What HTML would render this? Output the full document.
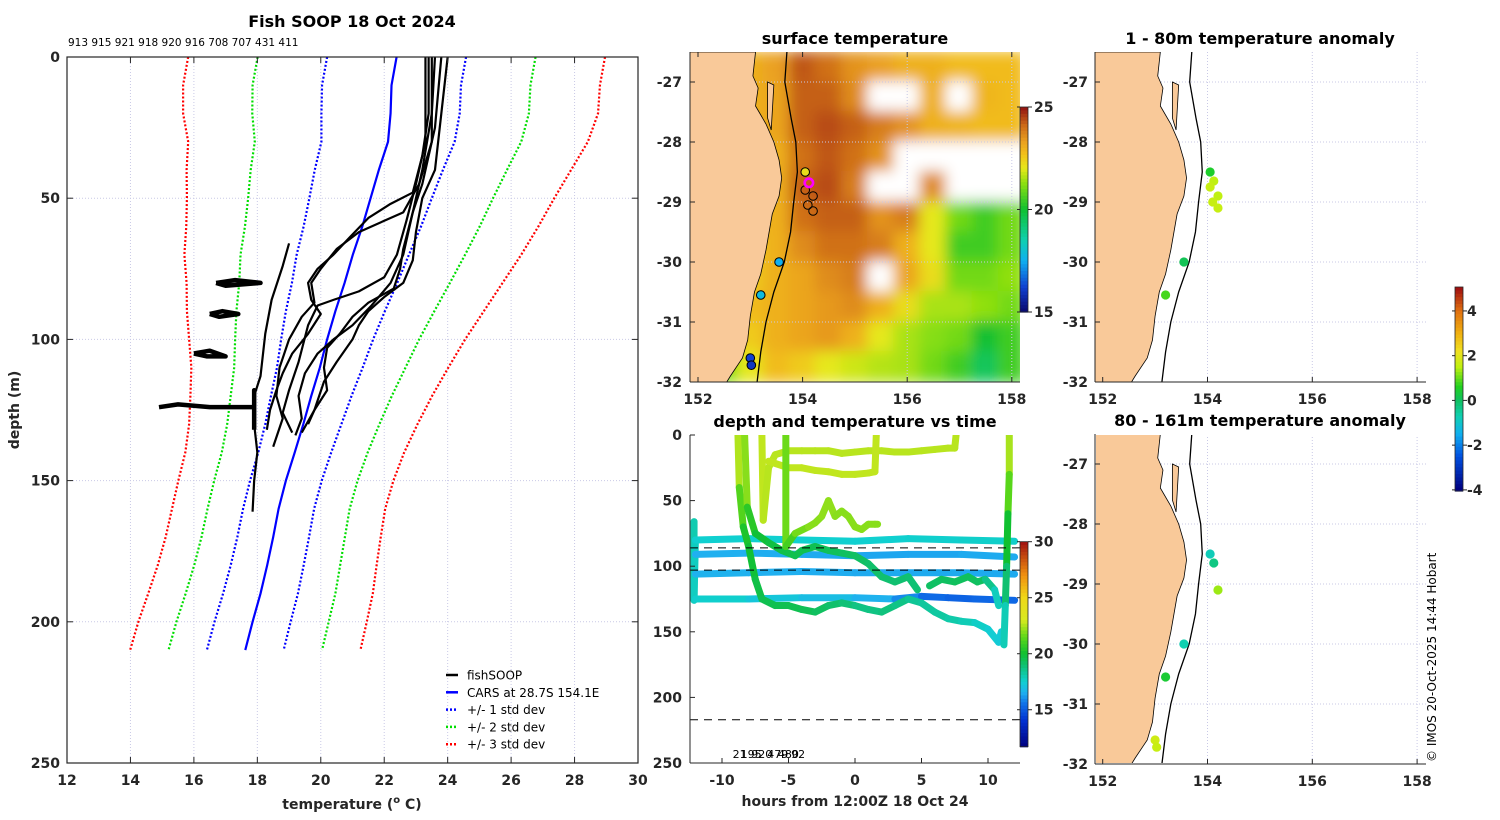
<!DOCTYPE html>
<html><head><meta charset="utf-8"><title>Fish SOOP 18 Oct 2024</title>
<style>
html,body{margin:0;padding:0;background:#fff;}
svg{display:block;font-family:"DejaVu Sans","Liberation Sans",sans-serif;}
.tk{font-size:14px;font-weight:bold;fill:#262626;}
.ttl{font-size:16px;font-weight:bold;fill:#000;}
.lg{font-size:12px;fill:#000;}
</style></head>
<body>
<svg id="fig" width="1500" height="820" viewBox="0 0 1500 820" xmlns="http://www.w3.org/2000/svg">
<defs>
<clipPath id="cpSst"><rect x="690" y="52" width="330" height="330"/></clipPath>
<clipPath id="cpTime"><rect x="690" y="435" width="330" height="328"/></clipPath>
<clipPath id="cpA1"><rect x="1095" y="52" width="331" height="330"/></clipPath>
<clipPath id="cpA2"><rect x="1096" y="435" width="330" height="328"/></clipPath>
<clipPath id="cpProf"><rect x="67" y="57" width="571" height="706"/></clipPath>
<filter id="blur" x="-5%" y="-5%" width="110%" height="110%"><feGaussianBlur stdDeviation="7"/></filter>
</defs>
<g id="root"></g>
</svg>
<script>
// ---------- profile panel data ----------
const carsDepth = [0,10,20,30,40,50,60,70,80,90,100,110,120,130,140,150,160,170,180,190,200,210];
const carsMean  = [22.39,22.23,22.2,22.12,21.83,21.57,21.31,21.01,20.75,20.46,20.2,19.97,19.7,19.45,19.18,18.9,18.67,18.5,18.31,18.1,17.85,17.62];
const carsSd    = [2.19,2.19,2.18,2.1,2.02,1.93,1.85,1.77,1.66,1.56,1.45,1.35,1.27,1.2,1.15,1.13,1.12,1.13,1.15,1.18,1.2,1.21];
const stdMult = [1,2,3];
const fishProfiles = [
 [[23.4,0],[23.4,20],[23.2,35],[22.9,48],[22.2,52],[21.5,57],[20.9,64],[20.4,70],[19.9,75],[19.6,80],[19.7,86],[20.0,91],[19.6,98],[19.1,105],[18.8,112],[18.6,118],[18.4,125],[18.3,132]],
 [[23.6,0],[23.5,20],[23.2,40],[23.0,50],[22.8,60],[22.6,70],[22.2,80],[21.6,88],[21.0,95],[20.4,100],[19.9,105],[19.5,112],[19.3,120],[19.4,128],[19.2,134]],
 [[23.8,0],[23.6,25],[23.2,45],[22.9,55],[22.6,68],[22.5,75],[22.3,82],[21.5,87],[21.0,92],[20.6,98],[20.2,103],[20.1,110],[20.2,118],[19.8,125],[19.6,130]],
 [[23.5,0],[23.5,30],[23.1,45],[22.6,55],[21.2,62],[20.5,68],[20.0,75],[19.7,80],[19.8,87],[19.4,92],[19.0,100],[18.7,110],[18.6,120],[18.8,128],[18.5,138]],
 [[24.0,0],[23.8,20],[23.6,40],[23.2,50],[23.0,62],[22.9,72],[22.6,80],[22.0,85],[21.5,90],[21.2,95],[21.0,100],[20.5,108],[20.1,115],[19.8,125],[19.4,133]],
 [[19.0,66],[18.8,74],[18.45,86],[18.25,98],[18.1,113],[17.9,120],[17.9,130],[18.0,140],[17.9,150],[17.85,161]],
 [[23.3,0],[23.3,30],[23.0,45],[22.7,58],[22.4,70],[22.0,78],[21.2,83],[20.4,86],[19.9,88],[19.6,95],[19.3,108],[19.0,118],[18.8,126],[19.1,133]],
 [[16.7,80],[17.3,79],[18.1,80],[17.0,81],[16.7,80]],
 [[16.5,91],[16.9,90],[17.4,91],[16.8,92],[16.5,91]],
 [[16.0,105],[16.5,104],[17.0,106],[16.4,106],[16.0,105]],
 [[14.9,124],[15.5,123],[16.5,124],[17.5,124],[17.9,124],[17.9,118],[17.9,132]]
];
const tempTicks = [12,14,16,18,20,22,24,26,28,30];
const depthTicks = [0,50,100,150,200,250];

// ---------- SST map data ----------
const sstLons = [152,152.5,153,153.5,154,154.5,155,155.5,156,156.5,157,157.5,158];
const sstLats = [-26.75,-27.25,-27.75,-28.25,-28.75,-29.25,-29.75,-30.25,-30.75,-31.25,-31.75];
const sstVals = [
 [23,23,23,23.3,24.3,24.0,23.5,23.3,23.0,23.0,22.8,22.8,22.8],
 [23,23,23,23.2,24.2,24.2,23.6,null,null,23.0,null,22.9,22.8],
 [23,23,23,23.2,24.2,24.4,24.2,23.8,23.5,23.0,22.9,22.8,22.8],
 [23,23,23,23.0,24.0,24.3,24.0,23.5,null,null,null,null,null],
 [23,23,23,23.0,24.2,24.4,23.8,null,null,23.6,null,null,null],
 [23,23,23,23.0,24.0,24.2,24.2,23.5,23.8,22.0,21.0,20.5,21.0],
 [23,23,22.5,23.0,23.6,24.0,24.0,23.8,23.0,22.0,20.5,20.5,21.0],
 [23,23,22.5,23.0,23.2,23.6,23.8,null,23.2,22.2,21.0,21.0,21.3],
 [23,23,22.8,23.0,23.2,23.4,23.6,23.0,22.2,21.5,21.5,21.3,21.0],
 [23,23,22.5,23.0,23.2,23.4,23.0,22.0,21.5,21.2,21.0,20.0,20.5],
 [21,21,22.0,22.8,22.5,22.0,21.8,21.6,21.5,21.0,20.5,19.5,20.5]
];
const stnLon = [154.05,154.05,154.2,154.1,154.2,153.55,153.2,153.0,153.02];
const stnLat = [-28.5,-28.8,-28.9,-29.05,-29.15,-30.0,-30.55,-31.6,-31.72];
const stnSst = [22.2,null,null,null,null,17.5,17.8,16.2,16.0];
const cursorLon = [154.12], cursorLat = [-28.68];
const sstTicks = [15,20,25];
const lonTicks = [152,154,156,158];
const latTicks = [-27,-28,-29,-30,-31,-32];
const coastLat = [-26.5,-26.9,-27.1,-27.4,-27.7,-28.0,-28.3,-28.6,-28.9,-29.2,-29.5,-29.8,-30.2,-30.5,-30.9,-31.3,-31.6,-31.9,-32.0];
const coastLon = [153.1,153.05,153.15,153.1,153.3,153.45,153.55,153.6,153.55,153.42,153.36,153.3,153.2,153.08,153.0,152.95,152.85,152.62,152.55];
const isoLat = [-26.5,-27,-27.6,-28,-28.5,-29,-29.5,-30,-30.5,-31,-31.5,-32];
const isoLon = [153.7,153.66,153.78,153.87,153.9,153.83,153.77,153.65,153.45,153.3,153.2,153.13];

// ---------- time panel data ----------
const timeTracks = [
 {t:[-12.1,-12.1,-12.0,-8,-4,0,4,8,12], d:[66,126,80,79,80,81,79,80,81], c:[18,18,17.5,17.5,17.5,17.5,17.5,17.6,17.6]},
 {t:[-12.0,-8,-4,0,4,8,12], d:[91,90,91,92,91,91,93], c:[16.5,16.5,16.4,16.4,16.3,16.4,16.4]},
 {t:[-12.0,-8,-4,0,4,8,12], d:[106,105,104,105,105,105,106], c:[16.6,16.5,16.5,16.4,16.4,16.4,16.4]},
 {t:[-12.0,-8,-4,0,3,5,7,9,12], d:[125,125,124,124,125,123,124,125,126], c:[17.7,17.4,17.0,16.8,16.3,15.5,15.2,15.2,15.4]},
 {t:[-8.8,-8.7,-8.4,-8,-7.5,-7,-6,-5,-4,-3,-2,-1,0,1,2,3,4,5,6,7,8,9,10,10.8,11], d:[0,40,70,85,110,125,130,130,133,135,130,128,130,133,135,130,125,128,135,140,142,143,148,158,150], c:[23,22,20.5,20,19.8,19.5,19.5,19.5,19.5,19.3,19.2,19,18.8,18.6,18.8,18.8,18.5,18.3,18.3,18.2,18,17.8,17.5,17.3,17.3]},
 {t:[-8.3,-8.1,-7.5,-6.5,-5.5,-5,-4.5,-4,-3,-2,-1,0,1,2,3,4,4.7], d:[0,55,75,82,88,90,92,88,85,88,90,92,98,108,112,108,118], c:[23,21,20,19.8,19.6,19.6,19.5,19.5,19.5,19.4,19.3,19.2,19.2,19.0,19.0,19.0,18.9]},
 {t:[5.6,6.5,7.5,8.5,9.2,9.8,10.5,10.8], d:[115,110,112,108,112,110,118,130], c:[19.2,19.2,19.3,19.3,19.3,19.2,18.0,17.6]},
 {t:[-7,-6.9,-6.5,-6,-5,-4,-3,-2,-1,0,1,2,3,4,5,6,7,7.5,7.6], d:[0,65,25,15,12,12,12,12,14,13,12,12,13,13,12,11,10,10,0], c:[22.8,22.6,22.6,22.6,22.6,22.6,22.6,22.6,22.6,22.6,22.6,22.6,22.6,22.6,22.6,22.6,22.6,22.6,22.6]},
 {t:[-6.5,-5,-4,-3,-2,-1,0,1,1.5,1.6], d:[20,25,25,27,28,30,30,29,28,0], c:[22.7,22.7,22.7,22.7,22.7,22.7,22.7,22.7,22.7,22.7]},
 {t:[-5.2,-5.2,-4.5,-3.5,-3,-2.5,-2,-1.5,-1,-0.5,0,0.5,1,1.5,1.7], d:[0,85,75,70,67,62,50,62,58,62,70,72,68,68,68], c:[22.8,20.5,21.5,22,22,22,22.2,22,22,22,22,22,22,22,22]},
 {t:[11.6,11.6,11.5,11.4,11.3,11.2], d:[0,30,60,100,130,160], c:[22.6,22.2,20.5,19.5,18.5,17.3]}
];
const dashDepths = [86,103,217];
const hourTicks = [-10,-5,0,5,10];
const timeDepthTicks = [0,50,100,150,200,250];
const timeCbTicks = [15,20,25,30];
const profIds = ["21","195","920","479","480","92"];
const profIdHours = [-9.2,-8.6,-7.8,-6.6,-5.8,-4.8];

// ---------- anomaly maps data ----------
const anomLon = [154.05,154.12,154.05,154.2,154.1,154.2,153.55,153.2];
const anomLat = [-28.5,-28.65,-28.75,-28.9,-29.0,-29.1,-30.0,-30.55];
const anomTop = [0.5,1.5,1.6,1.5,1.6,1.6,0.1,0.8];
const anom2Lon = [154.05,154.12,154.2,153.55,153.2,153.0,153.03];
const anom2Lat = [-28.5,-28.65,-29.1,-30.0,-30.55,-31.6,-31.72];
const anomBot = [-0.8,-0.3,1.3,-0.7,0.4,1.7,1.6];
const anomTicks = [-4,-2,0,2,4];

// ---------- helpers ----------
const NS = "http://www.w3.org/2000/svg";
const root = document.getElementById("root");
function el(tag, attrs, parent, text){
  const e = document.createElementNS(NS, tag);
  for (const k in attrs) e.setAttribute(k, attrs[k]);
  if (text !== undefined) e.textContent = text;
  (parent||root).appendChild(e);
  return e;
}
function hex(h){return [parseInt(h.slice(1,3),16),parseInt(h.slice(3,5),16),parseInt(h.slice(5,7),16)];}
function makeCmap(stops){
  return function(v){
    if (v<=stops[0][0]) return stops[0][1];
    for (let i=1;i<stops.length;i++){
      if (v<=stops[i][0]){
        const f=(v-stops[i-1][0])/(stops[i][0]-stops[i-1][0]);
        const a=hex(stops[i-1][1]), b=hex(stops[i][1]);
        return "rgb("+a.map((x,j)=>Math.round(x+(b[j]-x)*f)).join(",")+")";
      }
    }
    return stops[stops.length-1][1];
  };
}
const sstCmap = makeCmap([[15,"#08086e"],[16.2,"#1040d0"],[17.5,"#10b0f0"],[18.5,"#10d0b0"],[20,"#10c030"],[21.3,"#90e010"],[22,"#e6e81a"],[22.7,"#f2c01a"],[23.3,"#eaa020"],[24.1,"#cc6a18"],[25,"#901010"]]);
const timeCmap = makeCmap([[11.7,"#000080"],[14,"#0030d0"],[15.5,"#1070e8"],[16.5,"#20b0f0"],[17.5,"#10d0d0"],[19,"#10c070"],[20,"#10c030"],[21.5,"#60d818"],[23,"#d8ea20"],[25,"#f0d818"],[27,"#f09010"],[30,"#a01010"]]);
const anomCmap = makeCmap([[-4,"#000080"],[-2.5,"#0050e0"],[-1.5,"#10b0f0"],[-0.7,"#10d0b0"],[0,"#10c060"],[0.6,"#20d020"],[1.5,"#c0f010"],[2.2,"#f0e020"],[3,"#f0b010"],[4,"#e07010"],[5,"#a01010"]]);

// ================= PROFILE PANEL =================
const pX0=67,pX1=638,pY0=57,pY1=763;
const xT = T => pX0+(T-12)*(pX1-pX0)/18;
const yD = d => pY0+d*(pY1-pY0)/250;
const gProf = el("g",{});


tempTicks.slice(1,-1).forEach(T=>{
  const g=el("line",{x1:xT(T),x2:xT(T),y1:pY0,y2:pY1,stroke:"#c9c9e6","stroke-width":1,"stroke-dasharray":"1,2"},gProf);
  
  
});
depthTicks.slice(1,-1).forEach(d=>{
  const g=el("line",{x1:pX0,x2:pX1,y1:yD(d),y2:yD(d),stroke:"#c9c9e6","stroke-width":1,"stroke-dasharray":"1,2"},gProf);
  
  
});
const profClip = el("g",{"clip-path":"url(#cpProf)"},gProf);
const stdColors = ["#0000ff","#00dd00","#ff0000"];
stdMult.forEach((k,i)=>{
  [1,-1].forEach(s=>{
    const pts = carsDepth.map((d,j)=>xT(carsMean[j]+s*k*carsSd[j])+","+yD(d)).join(" ");
    const pl = el("polyline",{points:pts,fill:"none",stroke:stdColors[i],"stroke-width":2.2,"stroke-dasharray":"2,2"},profClip);
    
    
  });
});
const carsLine = el("polyline",{points:carsDepth.map((d,j)=>xT(carsMean[j])+","+yD(d)).join(" "),fill:"none",stroke:"#0000ff","stroke-width":2.2},profClip);


fishProfiles.forEach((p,i)=>{
  const pl = el("polyline",{points:p.map(q=>xT(q[0])+","+yD(q[1])).join(" "),fill:"none",stroke:"#000","stroke-width":i>=7?4.5:2.2,"stroke-linejoin":"round"},profClip);
  
  
});
const pbox = el("rect",{x:pX0,y:pY0,width:pX1-pX0,height:pY1-pY0,fill:"none",stroke:"#262626","stroke-width":1.2},gProf);


tempTicks.forEach(T=>{
  el("line",{x1:xT(T),x2:xT(T),y1:pY1,y2:pY1-6,stroke:"#262626"},gProf);
  el("line",{x1:xT(T),x2:xT(T),y1:pY0,y2:pY0+6,stroke:"#262626"},gProf);
  const t=el("text",{x:xT(T),y:pY1+22,"text-anchor":"middle",class:"tk"},gProf,String(T));
  
  
});
depthTicks.forEach(d=>{
  el("line",{x1:pX0,x2:pX0+6,y1:yD(d),y2:yD(d),stroke:"#262626"},gProf);
  el("line",{x1:pX1,x2:pX1-6,y1:yD(d),y2:yD(d),stroke:"#262626"},gProf);
  const t=el("text",{x:pX0-7,y:yD(d)+5,"text-anchor":"end",class:"tk"},gProf,String(d));
  
  
});
let t0=el("text",{x:352,y:27,"text-anchor":"middle",class:"ttl"},gProf,"Fish SOOP 18 Oct 2024");


t0=el("text",{x:68,y:46,"font-size":"10.5px",fill:"#000"},gProf,"913 915 921 918 920 916 708 707 431 411");


t0=el("text",{x:352,y:809,"text-anchor":"middle",class:"tk","font-size":"15px"},gProf);
t0.innerHTML='temperature (<tspan font-size="10" dy="-6">o</tspan><tspan dy="6"> C)</tspan>';


t0=el("text",{x:19,y:410,"text-anchor":"middle",class:"tk","font-size":"15px",transform:"rotate(-90 19 410)"},gProf,"depth (m)");


const legItems=[["fishSOOP","#000",""],["CARS at 28.7S 154.1E","#0000ff",""],["+/- 1 std dev","#0000ff","2,2"],["+/- 2 std dev","#00dd00","2,2"],["+/- 3 std dev","#ff0000","2,2"]];
legItems.forEach((it,i)=>{
  const y=675+i*17.3;
  const g=el("g",{},gProf);
  
  
  el("line",{x1:446,x2:458,y1:y,y2:y,stroke:it[1],"stroke-width":2.5,"stroke-dasharray":it[2]||"none"},g);
  el("text",{x:467,y:y+4.5,class:"lg"},g,it[0]);
});

// ================= SST MAP =================
const mX0=690,mX1=1020,mY0=52,mY1=382;
const lonX = lon => 698+(lon-152)*52.3;
const latY = lat => 82+(-27-lat)*60;
const gSst = el("g",{});


const sstClip = el("g",{"clip-path":"url(#cpSst)"},gSst);
const sstBlur = el("g",{filter:"url(#blur)"},sstClip);
sstLats.forEach((lat,r)=>{
  sstLons.forEach((lon,c)=>{
    const v=sstVals[r][c];
    const rc=el("rect",{x:lonX(lon-0.25)-1,y:latY(lat+0.25)-1,width:52.3*0.5+2,height:32,fill:v===null?"#ffffff":sstCmap(v)},sstBlur);
    
    
  });
});
[156,158].forEach(l=>el("line",{x1:lonX(l),x2:lonX(l),y1:mY0,y2:mY1,stroke:"#c9c9e6","stroke-dasharray":"1,2"},sstClip));
latTicks.forEach(l=>el("line",{x1:mX0,x2:mX1,y1:latY(l),y2:latY(l),stroke:"#c9c9e6","stroke-dasharray":"1,2"},sstClip));
function landPath(lx,ly,west){
  let d="M"+west+","+ly(coastLat[0]);
  coastLat.forEach((lat,i)=>{d+=" L"+lx(coastLon[i])+","+ly(lat);});
  d+=" L"+west+","+ly(coastLat[coastLat.length-1])+" Z";
  return d;
}
function isoPath(lx,ly){return "M"+isoLat.map((lat,i)=>lx(isoLon[i])+","+ly(lat)).join(" L");}
let land=el("path",{d:landPath(lonX,latY,mX0-5),fill:"#f9c999",stroke:"#000","stroke-width":0.8},sstClip);


el("path",{d:"M"+lonX(153.33)+","+latY(-27.0)+" L"+lonX(153.45)+","+latY(-27.05)+" L"+lonX(153.4)+","+latY(-27.8)+" L"+lonX(153.33)+","+latY(-27.6)+" Z",fill:"#f9c999",stroke:"#000","stroke-width":0.8},sstClip);
let iso=el("path",{d:isoPath(lonX,latY),fill:"none",stroke:"#000","stroke-width":1.3},sstClip);


stnLon.forEach((lon,i)=>{
  const v=stnSst[i];
  const c=el("circle",{cx:lonX(lon),cy:latY(stnLat[i]),r:4.3,fill:v===null?"none":sstCmap(v),stroke:"#000","stroke-width":1},sstClip);
  
  
});
let cur=el("circle",{cx:lonX(cursorLon[0]),cy:latY(cursorLat[0]),r:4.2,fill:"none",stroke:"#ff00ff","stroke-width":2.6},sstClip);


el("line",{x1:mX0,x2:mX0,y1:mY0,y2:mY1,stroke:"#262626"},gSst);
el("line",{x1:mX0,x2:mX1,y1:mY1,y2:mY1,stroke:"#262626"},gSst);
lonTicks.forEach(l=>{
  el("line",{x1:lonX(l),x2:lonX(l),y1:mY1,y2:mY1-5,stroke:"#262626"},gSst);
  el("line",{x1:lonX(l),x2:lonX(l),y1:mY0,y2:mY0+5,stroke:"#262626"},gSst);
  const t=el("text",{x:lonX(l),y:mY1+22,"text-anchor":"middle",class:"tk","font-size":"15px"},gSst,String(l));
  
  
});
latTicks.forEach(l=>{
  el("line",{x1:mX0,x2:mX0+5,y1:latY(l),y2:latY(l),stroke:"#262626"},gSst);
  const t=el("text",{x:mX0-8,y:latY(l)+5,"text-anchor":"end",class:"tk","font-size":"15px"},gSst,String(l));
  
  
});
t0=el("text",{x:855,y:44,"text-anchor":"middle",class:"ttl"},gSst,"surface temperature");


function colorbar(parent,x,y0,y1,vmin,vmax,cmap,ticks,name,lx){
  const g=el("g",{},parent);
  
  
  const n=60,h=(y1-y0)/n;
  for(let i=0;i<n;i++){
    const v=vmax-(i+0.5)*(vmax-vmin)/n;
    el("rect",{x:x,y:y0+i*h,width:8,height:h+0.6,fill:cmap(v)},g);
  }
  el("rect",{x:x,y:y0,width:8,height:y1-y0,fill:"none",stroke:"#262626","stroke-width":0.8},g);
  ticks.forEach(tv=>{
    const y=y1-(tv-vmin)/(vmax-vmin)*(y1-y0);
    el("line",{x1:x+8,x2:x+12,y1:y,y2:y,stroke:"#262626"},g);
    el("line",{x1:x-3,x2:x,y1:y,y2:y,stroke:"#262626"},g);
    el("text",{x:lx,y:y+5,class:"tk","font-size":"13px"},g,String(tv));
  });
}
colorbar(gSst,1020,107,312,15,25,sstCmap,sstTicks,"sst-colorbar",1034);

// ================= TIME PANEL =================
const tX0=690,tX1=1020,tY0=435,tY1=763;
const xH = h => 855+h*13.3;
const yTD = d => tY0+d*(tY1-tY0)/250;
const gTime = el("g",{});


const timeClip=el("g",{"clip-path":"url(#cpTime)"},gTime);
timeTracks.forEach(tr=>{
  const g=el("g",{},timeClip);
  
  
  for(let i=1;i<tr.t.length;i++){
    el("line",{x1:xH(tr.t[i-1]),y1:yTD(tr.d[i-1]),x2:xH(tr.t[i]),y2:yTD(tr.d[i]),stroke:timeCmap((tr.c[i-1]+tr.c[i])/2),"stroke-width":7,"stroke-linecap":"round"},g);
  }
});
dashDepths.forEach(d=>{
  const l=el("line",{x1:tX0,x2:tX1,y1:yTD(d),y2:yTD(d),stroke:"#000","stroke-width":1,"stroke-dasharray":"8,6"},timeClip);
  
  
});
el("line",{x1:tX0,x2:tX0,y1:tY0,y2:tY1,stroke:"#262626"},gTime);
el("line",{x1:tX0,x2:tX1,y1:tY1,y2:tY1,stroke:"#262626"},gTime);
hourTicks.forEach(h=>{
  el("line",{x1:xH(h),x2:xH(h),y1:tY1,y2:tY1-5,stroke:"#262626"},gTime);
  const t=el("text",{x:xH(h),y:tY1+22,"text-anchor":"middle",class:"tk","font-size":"15px"},gTime,String(h));
  
  
});
timeDepthTicks.forEach(d=>{
  el("line",{x1:tX0,x2:tX0+5,y1:yTD(d),y2:yTD(d),stroke:"#262626"},gTime);
  const t=el("text",{x:tX0-8,y:yTD(d)+5,"text-anchor":"end",class:"tk","font-size":"15px"},gTime,String(d));
  
  
});
profIds.forEach((s,i)=>{
  const t=el("text",{x:xH(profIdHours[i]),y:758,"font-size":"11px",fill:"#000"},gTime,s);
  
  
});
t0=el("text",{x:855,y:427,"text-anchor":"middle",class:"ttl"},gTime,"depth and temperature vs time");


t0=el("text",{x:855,y:806,"text-anchor":"middle",class:"tk","font-size":"15px"},gTime,"hours from 12:00Z 18 Oct 24");


colorbar(gTime,1020,541.7,746.7,11.7,30,timeCmap,timeCbTicks,"time-colorbar",1034);

// ================= ANOMALY MAPS =================
function anomMap(top,title,lons,lats,vals,name,clip){
  const left=1095;
  const lx = lon => 1102.7+(lon-152)*52.4;
  const ly = lat => top+30+(-27-lat)*60;
  const g=el("g",{});
  
  
  const c=el("g",{"clip-path":"url(#"+clip+")"},g);
  lonTicks.forEach(l=>el("line",{x1:lx(l),x2:lx(l),y1:top,y2:top+330,stroke:"#c9c9e6","stroke-dasharray":"1,2"},c));
  latTicks.forEach(l=>el("line",{x1:left,x2:left+331,y1:ly(l),y2:ly(l),stroke:"#c9c9e6","stroke-dasharray":"1,2"},c));
  const ld=el("path",{d:landPath(lx,ly,left-5),fill:"#f9c999",stroke:"#000","stroke-width":0.8},c);
  
  
  el("path",{d:"M"+lx(153.33)+","+ly(-27.0)+" L"+lx(153.45)+","+ly(-27.05)+" L"+lx(153.4)+","+ly(-27.8)+" L"+lx(153.33)+","+ly(-27.6)+" Z",fill:"#f9c999",stroke:"#000","stroke-width":0.8},c);
  const is=el("path",{d:isoPath(lx,ly),fill:"none",stroke:"#000","stroke-width":1.3},c);
  
  
  lons.forEach((lon,i)=>{
    const p=el("circle",{cx:lx(lon),cy:ly(lats[i]),r:4.6,fill:anomCmap(vals[i])},c);
    
    
  });
  el("line",{x1:left,x2:left,y1:top,y2:top+330,stroke:"#262626"},g);
  el("line",{x1:left,x2:left+331,y1:top+330,y2:top+330,stroke:"#262626"},g);
  lonTicks.forEach(l=>{
    el("line",{x1:lx(l),x2:lx(l),y1:top+330,y2:top+325,stroke:"#262626"},g);
    const t=el("text",{x:lx(l),y:top+352,"text-anchor":"middle",class:"tk","font-size":"15px"},g,String(l));
    
    
  });
  latTicks.forEach(l=>{
    el("line",{x1:left,x2:left+5,y1:ly(l),y2:ly(l),stroke:"#262626"},g);
    const t=el("text",{x:left-7,y:ly(l)+5,"text-anchor":"end",class:"tk","font-size":"15px"},g,String(l));
    
    
  });
  const tt=el("text",{x:1260,y:top-8,"text-anchor":"middle",class:"ttl"},g,title);
  
  
}
anomMap(52,"1 - 80m temperature anomaly",anomLon,anomLat,anomTop,"anomaly-map-upper","cpA1");
anomMap(434,"80 - 161m temperature anomaly",anom2Lon,anom2Lat,anomBot,"anomaly-map-lower","cpA2");
colorbar(root,1455,287,491,-4.05,5.07,anomCmap,anomTicks,"anomaly-colorbar",1467);
t0=el("text",{x:1436,y:762,"font-size":"12px",fill:"#000",transform:"rotate(-90 1436 762)"},root,"© IMOS 20-Oct-2025 14:44 Hobart");


</script>
</body></html>
